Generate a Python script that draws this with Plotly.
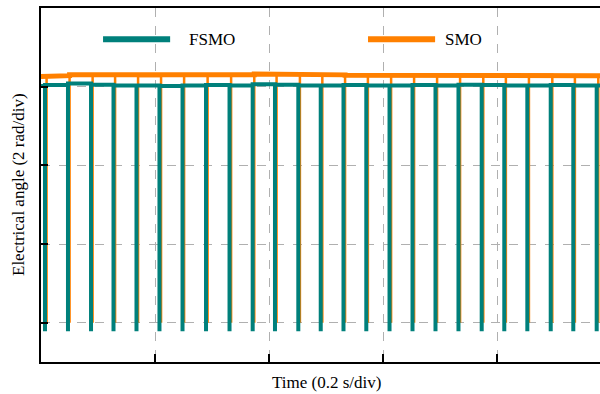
import plotly.graph_objects as go

# ---- data ----
fsmo_spike_t = [0.0070, 0.0473, 0.0877, 0.1271, 0.1674, 0.2077, 0.2481, 0.2893, 0.3305,
                0.3711, 0.4102, 0.4511, 0.4904, 0.5303, 0.5703, 0.6110, 0.6513, 0.6916,
                0.7319, 0.7726, 0.8122, 0.8526, 0.8936, 0.9332, 0.9742]
smo_spike_t = [0.0098, 0.0501, 0.0905, 0.1299, 0.1702, 0.2105, 0.2509, 0.2921, 0.3333,
               0.3739, 0.4130, 0.4539, 0.4932, 0.5331, 0.5731, 0.6138, 0.6541, 0.6944,
               0.7347, 0.7754, 0.8150, 0.8554, 0.8964, 0.9360, 0.9770]
fsmo_top = [6.02, 6.04, 6.08, 6.05, 6.03, 6.03, 6.02, 6.03, 6.04, 6.03, 6.06, 6.05, 6.03,
            6.03, 6.04, 6.03, 6.03, 6.04, 6.03, 6.05, 6.04, 6.03, 6.03, 6.04, 6.03, 6.03]
smo_top = [6.26, 6.28, 6.30, 6.29, 6.28, 6.27, 6.29, 6.28, 6.29, 6.30, 6.32, 6.33, 6.31,
           6.30, 6.29, 6.30, 6.29, 6.30, 6.29, 6.30, 6.28, 6.29, 6.30, 6.29, 6.29, 6.28]
fsmo_bottom = -0.22
smo_bottom = 0.0
t_start, t_end = 0.0, 0.98

TEAL = "#00807B"
ORANGE = "#FF8000"


def build(spikes, tops, bottom, with_spikes=True):
    xs, ys = [t_start], [tops[0]]
    for k, t in enumerate(spikes):
        xs.append(t); ys.append(tops[k])
        if with_spikes:
            xs.append(t); ys.append(bottom)
        xs.append(t); ys.append(tops[k + 1])
    xs.append(t_end); ys.append(tops[-1])
    return xs, ys


fig = go.Figure()
sx, sy = build(smo_spike_t, smo_top, smo_bottom)
fig.add_trace(go.Scatter(x=sx, y=sy, mode="lines", line=dict(color=ORANGE, width=2.5),
                         name="SMO", showlegend=False, hoverinfo="skip"))
bx, by = build(smo_spike_t, smo_top, smo_bottom, with_spikes=False)
fig.add_trace(go.Scatter(x=bx, y=by, mode="lines", line=dict(color=ORANGE, width=5),
                         showlegend=False, hoverinfo="skip"))
fx, fy = build(fsmo_spike_t, fsmo_top, fsmo_bottom)
fig.add_trace(go.Scatter(x=fx, y=fy, mode="lines", line=dict(color=TEAL, width=4),
                         name="FSMO", showlegend=False, hoverinfo="skip"))

FONT = "Liberation Serif, Times New Roman, serif"

# manual legend
fig.add_shape(type="line", xref="paper", yref="paper", x0=0.111, x1=0.231, y0=0.912, y1=0.912,
              line=dict(color=TEAL, width=6))
fig.add_shape(type="line", xref="paper", yref="paper", x0=0.585, x1=0.705, y0=0.912, y1=0.912,
              line=dict(color=ORANGE, width=6))
fig.add_annotation(xref="paper", yref="paper", x=0.261, y=0.912, text="FSMO", showarrow=False,
                   xanchor="left", yanchor="middle", font=dict(family=FONT, size=17, color="black"))
fig.add_annotation(xref="paper", yref="paper", x=0.719, y=0.912, text="SMO", showarrow=False,
                   xanchor="left", yanchor="middle", font=dict(family=FONT, size=17, color="black"))

# axis titles
fig.add_annotation(xref="paper", yref="paper", x=(326 - 41) / 559, y=-0.058, text="Time (0.2 s/div)",
                   showarrow=False, xanchor="center", yanchor="middle",
                   font=dict(family=FONT, size=17, color="black"))
fig.add_annotation(xref="paper", yref="paper", x=-(41 - 18) / 559, y=0.5,
                   text="Electrical angle (2 rad/div)", textangle=-90,
                   showarrow=False, xanchor="center", yanchor="middle",
                   font=dict(family=FONT, size=17, color="black"))

fig.update_xaxes(range=[t_start, t_end], showgrid=True, gridcolor="#b0b0b0", griddash="dash",
                 gridwidth=1, tickvals=[0.2, 0.4, 0.6, 0.8], showticklabels=False,
                 ticks="inside", ticklen=8, tickwidth=1.5, tickcolor="black",
                 showline=True, linecolor="black", linewidth=1.5, mirror=True, zeroline=False)
fig.update_yaxes(range=[-1, 8], showgrid=True, gridcolor="#b0b0b0", griddash="dash",
                 gridwidth=1, tickvals=[0, 2, 4, 6], showticklabels=False,
                 ticks="inside", ticklen=7, tickwidth=1.5, tickcolor="black",
                 showline=True, linecolor="black", linewidth=1.5, zeroline=False)

fig.update_layout(width=600, height=394, margin=dict(l=41, r=0, t=8, b=32),
                  plot_bgcolor="white", paper_bgcolor="white", showlegend=False)

fig.write_html("out.html")
